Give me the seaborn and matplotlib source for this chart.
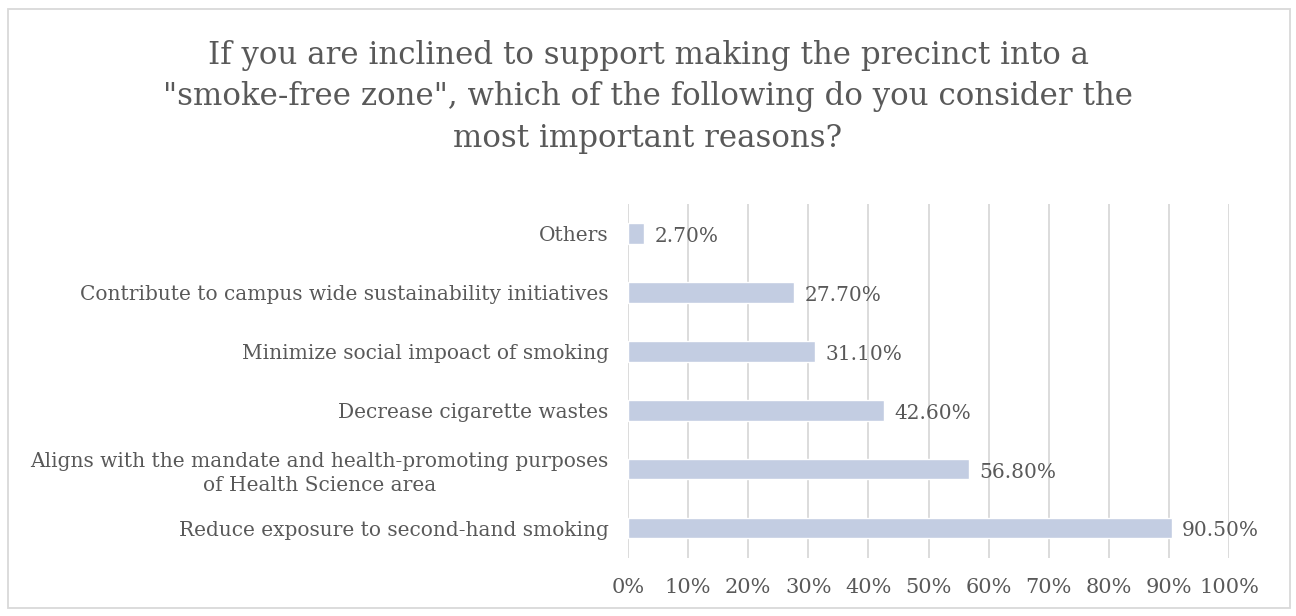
import matplotlib
matplotlib.use("Agg")
import matplotlib.pyplot as plt
from matplotlib.patches import Rectangle
import seaborn as sns
import pandas as pd

categories = [
    "Others",
    "Contribute to campus wide sustainability initiatives",
    "Minimize social impoact of smoking",
    "Decrease cigarette wastes",
    "Aligns with the mandate and health-promoting purposes\nof Health Science area",
    "Reduce exposure to second-hand smoking",
]
values = [2.7, 27.7, 31.1, 42.6, 56.8, 90.5]
tick_values = [0, 10, 20, 30, 40, 50, 60, 70, 80, 90, 100]
tick_labels = [f"{v}%" for v in tick_values]
title = ('If you are inclined to support making the precinct into a\n'
         '"smoke-free zone", which of the following do you consider the\n'
         'most important reasons?')

sns.set_theme(style="white")
plt.rcParams["font.family"] = ["DejaVu Serif"]

TEXT = "#595959"
BAR = "#C3CDE2"
GRID = "#D9D9D9"

df = pd.DataFrame({"reason": categories, "pct": values})

fig = plt.figure(figsize=(12.96, 6.16), dpi=100)
fig.patches.append(Rectangle((8 / 1296, 1 - 608 / 616), 1282 / 1296, 599 / 616,
                             transform=fig.transFigure, fill=False,
                             edgecolor=GRID, linewidth=1.3))
ax = fig.add_axes([628 / 1296, 1 - 557.5 / 616, 601 / 1296, 353.5 / 616])

sns.barplot(data=df, x="pct", y="reason", orient="h", color=BAR,
            width=0.35, saturation=1, ax=ax)

ax.set_xlim(0, 100)
ax.set_xticks(tick_values)
ax.set_xticklabels(tick_labels, fontsize=15, color=TEXT)
ax.grid(axis="x", color=GRID, linewidth=1.3)
ax.set_axisbelow(True)
for s in ax.spines.values():
    s.set_visible(False)
ax.tick_params(axis="x", length=0, pad=15)
ax.tick_params(axis="y", length=0, pad=14)
for lab in ax.get_yticklabels():
    lab.set_fontsize(14.5)
    lab.set_color(TEXT)
    lab.set_multialignment("center")
    lab.set_linespacing(1.3)
ax.set_xlabel("")
ax.set_ylabel("")

for i, v in enumerate(values):
    ax.text(v + 1.7, i + 0.05, f"{v:.2f}%", va="center", ha="left",
            fontsize=14.5, color=TEXT)

fig.text(0.5, 1 - 97 / 616, title, ha="center", va="center",
         fontsize=22.2, color=TEXT, linespacing=1.45)

fig.savefig("out.png", dpi=100)
